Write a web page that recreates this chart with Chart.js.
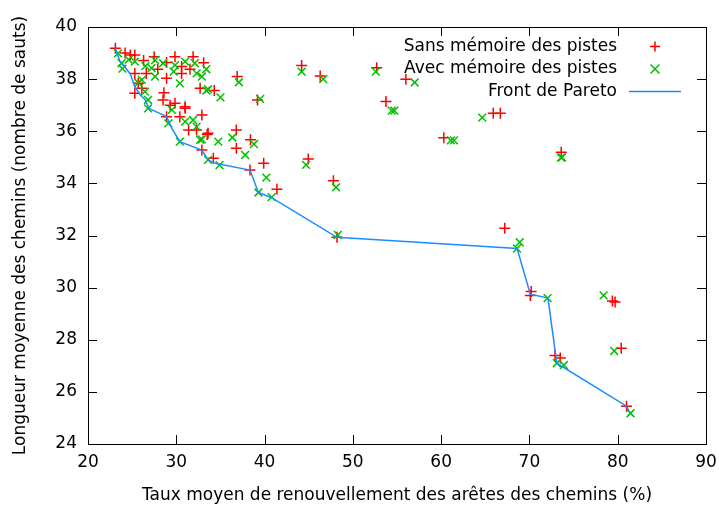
<!DOCTYPE html>
<html>
<head>
<meta charset="utf-8">
<script src="https://cdn.jsdelivr.net/npm/chart.js@4"></script>
<style>
  html, body { margin: 0; padding: 0; background: #fff; }
  #wrap { width: 719px; height: 508px; }
</style>
</head>
<body>
<div id="wrap"><canvas id="myChart" width="719" height="508"></canvas></div>
<script>
// Sans mémoire des pistes (rouge, +)
const sansX = [23.1, 24.2, 24.8, 25.3, 27.5, 29.85, 31.9, 26.3, 28.9, 30.6, 33.1, 31.55, 25.3, 26.6, 27.9,
  28.9, 30.6, 32.7, 34.3, 25.7, 26.1, 25.3, 28.6, 28.5, 29.85, 31.0, 29.3, 31.0, 28.9, 30.4, 32.9, 31.4,
  32.3, 33.6, 32.9, 34.2, 36.9, 39.2, 33.5, 36.8, 38.4, 36.8, 39.9, 38.35, 41.4, 44.2, 46.3, 52.7, 56.0,
  53.75, 65.9, 66.7, 60.3, 73.6, 44.95, 47.8, 48.2, 67.2, 70.2, 70.1, 79.4, 79.7, 80.4, 72.9, 73.5, 81.0];
const sansY = [39.18, 39.0, 38.93, 38.93, 38.86, 38.86, 38.86, 38.71, 38.64, 38.48, 38.63, 38.38, 38.22, 38.22, 38.38,
  38.03, 38.22, 37.65, 37.56, 37.84, 37.65, 37.46, 37.48, 37.2, 37.07, 36.94, 37.0, 36.88, 36.56, 36.56, 36.62, 36.05,
  36.05, 35.92, 35.28, 34.96, 38.1, 37.2, 35.88, 36.05, 35.67, 35.35, 34.77, 34.51, 33.77, 38.52, 38.12, 38.44, 38.0,
  37.14, 36.69, 36.69, 35.75, 35.19, 34.94, 34.1, 31.93, 32.28, 29.85, 29.7, 29.49, 29.45, 27.67, 27.4, 27.3, 25.45];

// Avec mémoire des pistes (vert, x)
const avecX = [23.4, 23.8, 23.9, 24.6, 25.3, 26.5, 27.6, 28.5, 29.85, 31.0, 32.1, 33.4, 27.2, 29.7, 32.3, 26.1,
  27.6, 30.4, 25.7, 26.45, 33.6, 26.8, 26.8, 29.5, 29.1, 31.0, 31.9, 32.3, 30.4, 32.7, 34.75, 33.6, 34.9,
  32.9, 37.1, 33.4, 35.0, 39.5, 32.9, 36.35, 38.8, 37.8, 40.2, 39.3, 40.8, 44.2, 46.65, 52.6, 57.0, 54.4,
  54.7, 64.65, 61.1, 61.45, 73.57, 73.7, 44.7, 48.1, 48.3, 68.9, 68.6, 72.06, 78.4, 79.6, 73.1, 73.9, 81.45];
const avecY = [38.99, 38.61, 38.4, 38.75, 38.67, 38.5, 38.73, 38.61, 38.54, 38.67, 38.61, 38.38, 38.42, 38.29, 38.22, 37.97,
  38.1, 37.84, 37.86, 37.52, 37.61, 37.2, 36.88, 36.82, 36.3, 36.37, 36.43, 36.18, 35.6, 35.67, 35.6, 34.9, 34.7,
  38.1, 37.88, 37.56, 37.3, 37.24, 35.69, 35.76, 35.51, 35.09, 34.22, 33.65, 33.47, 38.29, 38.0, 38.29, 37.87, 36.79,
  36.79, 36.52, 35.65, 35.65, 34.99, 35.0, 34.71, 33.85, 32.02, 31.74, 31.5, 29.6, 29.7, 27.57, 27.1, 27.03, 25.18];

// Front de Pareto
const paretoX = [23.1, 23.6, 24.8, 25.3, 25.9, 26.5, 26.9, 28.9, 29.5, 30.4, 32.9, 33.6, 34.4, 38.35, 39.3, 40.8,
  48.2, 68.6, 70.1, 72.1, 73.1, 81.0, 81.3];
const paretoY = [39.18, 38.7, 38.2, 37.7, 37.4, 37.2, 36.88, 36.56, 36.11, 35.6, 35.28, 34.9, 34.77, 34.51, 33.65, 33.45,
  31.93, 31.5, 29.75, 29.6, 27.1, 25.45, 25.25];

const xTicks = [20, 30, 40, 50, 60, 70, 80, 90];
const yTicks = [24, 26, 28, 30, 32, 34, 36, 38, 40];

const legendLabels = ['Sans mémoire des pistes', 'Avec mémoire des pistes', 'Front de Pareto'];

const toPoints = (xs, ys) => xs.map((x, i) => ({ x: x, y: ys[i] }));

const FONT = 'DejaVu Sans';

// Cadre, graduations vers l'intérieur et légende façon gnuplot
const gnuplotFrame = {
  id: 'gnuplotFrame',
  afterDatasetsDraw(chart) {
    const c = chart.ctx;
    const a = chart.chartArea;
    const xs = chart.scales.x, ys = chart.scales.y;
    const tl = 9;
    c.save();
    c.strokeStyle = '#000';
    c.lineWidth = 1;
    c.beginPath();
    xTicks.forEach(v => {
      const px = Math.round(xs.getPixelForValue(v)) + 0.5;
      c.moveTo(px, a.bottom); c.lineTo(px, a.bottom - tl);
      c.moveTo(px, a.top); c.lineTo(px, a.top + tl);
    });
    yTicks.forEach(v => {
      const py = Math.round(ys.getPixelForValue(v)) + 0.5;
      c.moveTo(a.left, py); c.lineTo(a.left + tl, py);
      c.moveTo(a.right, py); c.lineTo(a.right - tl, py);
    });
    c.stroke();
    c.strokeRect(Math.round(a.left) + 0.5, Math.round(a.top) + 0.5,
      Math.round(a.right - a.left), Math.round(a.bottom - a.top));

    // légende
    c.font = '17px "' + FONT + '"';
    c.textAlign = 'right';
    c.textBaseline = 'middle';
    c.fillStyle = '#000';
    const textRight = a.right - 89;
    const sampleX = a.right - 51;
    legendLabels.forEach((lab, i) => {
      const ly = a.top + 19.5 + i * 22.5;
      c.fillText(lab, textRight, ly);
      const ds = chart.data.datasets[i];
      c.strokeStyle = ds.borderColor;
      c.lineWidth = 1.5;
      c.beginPath();
      if (i === 0) {
        c.moveTo(sampleX - 5, ly); c.lineTo(sampleX + 5, ly);
        c.moveTo(sampleX, ly - 5); c.lineTo(sampleX, ly + 5);
      } else if (i === 1) {
        c.moveTo(sampleX - 4.5, ly - 4.5); c.lineTo(sampleX + 4.5, ly + 4.5);
        c.moveTo(sampleX - 4.5, ly + 4.5); c.lineTo(sampleX + 4.5, ly - 4.5);
      } else {
        c.moveTo(sampleX - 26, ly); c.lineTo(sampleX + 26, ly);
      }
      c.stroke();
    });
    c.restore();
  }
};

const ctx = document.getElementById('myChart').getContext('2d');
const paretoChart = new Chart(ctx, {
  type: 'scatter',
  data: {
    datasets: [{
      label: legendLabels[0],
      data: toPoints(sansX, sansY),
      pointStyle: 'cross',
      pointRadius: 5.5,
      borderColor: '#ff0000',
      backgroundColor: '#ff0000',
      pointBorderWidth: 1.5,
      order: 2
    }, {
      label: legendLabels[1],
      data: toPoints(avecX, avecY),
      pointStyle: 'crossRot',
      pointRadius: 5.5,
      borderColor: '#00c000',
      backgroundColor: '#00c000',
      pointBorderWidth: 1.5,
      order: 1
    }, {
      label: legendLabels[2],
      data: toPoints(paretoX, paretoY),
      showLine: true,
      pointRadius: 0,
      borderColor: '#1a8cff',
      borderWidth: 1.5,
      fill: false,
      order: 0
    }]
  },
  options: {
    responsive: false,
    animation: false,
    layout: { padding: { left: 0, top: 27, right: 13, bottom: 0 } },
    plugins: { legend: { display: false }, tooltip: { enabled: false } },
    scales: {
      x: {
        type: 'linear',
        min: 20, max: 90,
        afterFit: s => { s.height = 64; s.paddingLeft = 0; s.paddingRight = 0; },
        afterBuildTicks: s => { s.ticks = xTicks.map(v => ({ value: v })); },
        grid: { display: false, drawTicks: false },
        border: { display: false },
        ticks: { color: '#000', padding: 8, font: { family: FONT, size: 17 } },
        title: {
          display: true,
          text: 'Taux moyen de renouvellement des arêtes des chemins (%)',
          color: '#000',
          font: { family: FONT, size: 17 },
          padding: { top: 0, bottom: 2 }
        }
      },
      y: {
        type: 'linear',
        min: 24, max: 40,
        afterFit: s => { s.width = 88; s.paddingTop = 0; s.paddingBottom = 0; },
        afterBuildTicks: s => { s.ticks = yTicks.map(v => ({ value: v })); },
        grid: { display: false, drawTicks: false },
        border: { display: false },
        ticks: { color: '#000', padding: 11, font: { family: FONT, size: 17 } },
        title: {
          display: true,
          text: 'Longueur moyenne des chemins (nombre de sauts)',
          color: '#000',
          font: { family: FONT, size: 17 },
          padding: { top: 10, bottom: 0 }
        }
      }
    }
  },
  plugins: [gnuplotFrame]
});
</script>
</body>
</html>
